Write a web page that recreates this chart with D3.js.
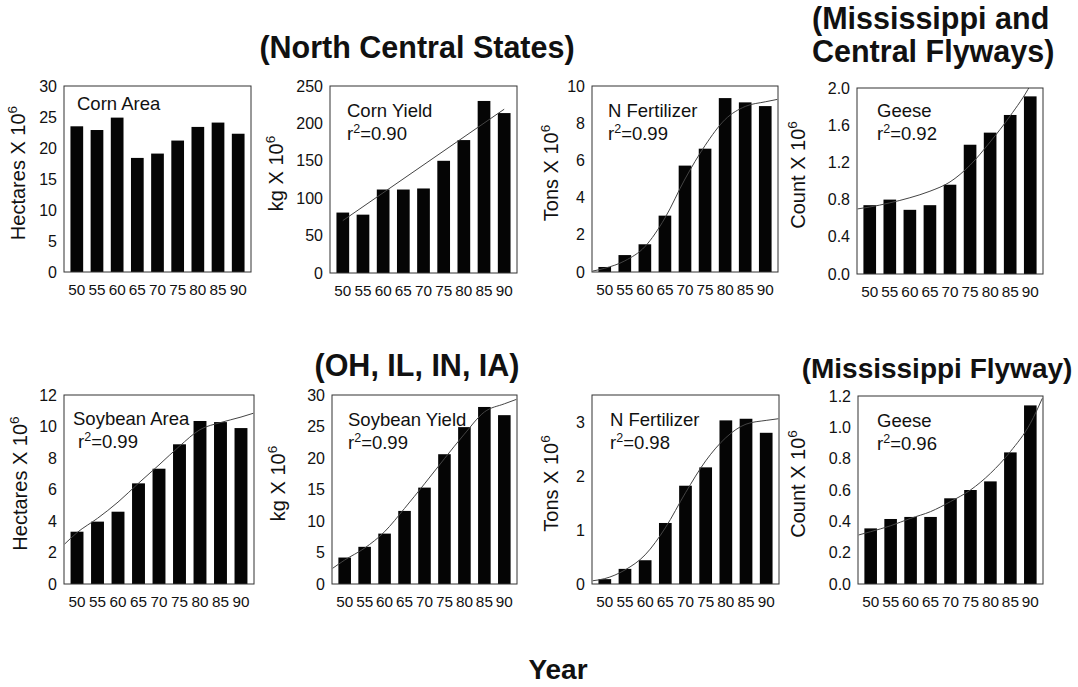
<!DOCTYPE html>
<html><head><meta charset="utf-8">
<script src="https://cdn.jsdelivr.net/npm/d3@7"></script>
<style>
body{margin:0;background:#fff;}
text{font-family:"Liberation Sans",Arial,Helvetica,sans-serif;fill:#111;}
</style></head>
<body><svg id="c" width="1078" height="687"></svg>
<script>
// ---- data ----
const years = ["50","55","60","65","70","75","80","85","90"];
const cornArea     = [23.5, 22.9, 24.9, 18.4, 19.1, 21.2, 23.4, 24.1, 22.3];
const cornYield    = [80.8, 78, 111.6, 111.6, 113, 150, 177.7, 230, 213.8];
const ncFertilizer = [0.27, 0.91, 1.49, 3.03, 5.72, 6.63, 9.35, 9.12, 8.92];
const geeseMC      = [0.74, 0.80, 0.69, 0.74, 0.96, 1.39, 1.52, 1.71, 1.91];
const soyArea      = [3.32, 3.96, 4.59, 6.39, 7.32, 8.87, 10.35, 10.28, 9.9];
const soyYield     = [4.2, 5.9, 8.0, 11.6, 15.3, 20.6, 24.9, 28.1, 26.8];
const ohFertilizer = [0.09, 0.28, 0.44, 1.13, 1.82, 2.16, 3.03, 3.06, 2.80];
const geeseM       = [0.355, 0.415, 0.428, 0.428, 0.547, 0.60, 0.655, 0.84, 1.14];

const fitYears    = [47, 50, 55, 60, 65, 70, 75, 80, 85, 90, 93];
const linFitYears = [50, 90];
const cornYieldFit    = [70, 219];
const ncFertilizerFit = [0.05, 0.2, 0.6, 1.36, 2.9, 5.0, 6.8, 8.2, 8.9, 9.15, 9.28];
const geeseMCFit      = [0.70, 0.72, 0.765, 0.82, 0.89, 0.99, 1.17, 1.42, 1.70, 2.03, 2.3];
const soyAreaFit      = [2.54, 3.26, 4.17, 5.2, 6.4, 7.56, 8.75, 9.8, 10.25, 10.6, 10.84];
const soyYieldFit     = [2.5, 3.8, 5.7, 8.3, 12.0, 15.9, 19.9, 23.8, 27.3, 28.6, 29.3];
const ohFertilizerFit = [0.06, 0.1, 0.26, 0.54, 1.04, 1.69, 2.28, 2.71, 2.96, 3.03, 3.06];
const geeseMFit       = [0.313, 0.334, 0.372, 0.419, 0.462, 0.526, 0.6, 0.706, 0.845, 1.025, 1.185];

const ticksCornArea = [0,5,10,15,20,25,30];
const ticksCornYield = [0,50,100,150,200,250];
const ticksNcFert = [0,2,4,6,8,10];
const ticksGeeseMC = [0,0.4,0.8,1.2,1.6,2.0];
const ticksSoyArea = [0,2,4,6,8,10,12];
const ticksSoyYield = [0,5,10,15,20,25,30];
const ticksOhFert = [0,1,2,3];
const ticksGeeseM = [0,0.2,0.4,0.6,0.8,1.0,1.2];

const panelNames = ["Corn Area","Corn Yield","N Fertilizer","Geese","Soybean Area","Soybean Yield","N Fertilizer","Geese"];
const r2Labels = [null,"0.90","0.99","0.92","0.99","0.99","0.98","0.96"];
const yUnits = ["Hectares","kg","Tons","Count","Hectares","kg","Tons","Count"];
const yMaxes = [30,250,10,2.0,12,30,3.5,1.2];

const titles = [
  {lines:["(North Central States)"], x:417, y:58, anchor:"middle", fs:30.5},
  {lines:["(Mississippi and","Central Flyways)"], x:812, y:29, lh:33, anchor:"start", fs:30.5},
  {lines:["(OH, IL, IN, IA)"], x:417, y:376, anchor:"middle", fs:30.5},
  {lines:["(Mississippi Flyway)"], x:937, y:378, anchor:"middle", fs:28}
];

// ---- layout (positions only) ----
const layout = [
  {x:64, y:86, w:187, h:186, lx:-39, tx:13, ty:24},
  {x:330,y:86, w:187, h:187, lx:-47, tx:17, ty:31},
  {x:592,y:86, w:186, h:186, lx:-34, tx:16, ty:31},
  {x:857,y:88, w:186, h:186, lx:-52, tx:20, ty:29},
  {x:64, y:395,w:190, h:189, lx:-37, tx:9,  ty:30, rx:14},
  {x:332,y:395,w:185, h:189, lx:-47, tx:16, ty:31},
  {x:592,y:395,w:187, h:189, lx:-34, tx:18, ty:31},
  {x:858,y:396,w:185, h:188, lx:-53, tx:19, ty:31}
];

const panels = [
  {v:cornArea, fy:null, f:null, ticks:ticksCornArea, fmt:d3.format("d")},
  {v:cornYield, fy:linFitYears, f:cornYieldFit, ticks:ticksCornYield, fmt:d3.format("d"), linear:true},
  {v:ncFertilizer, fy:fitYears, f:ncFertilizerFit, ticks:ticksNcFert, fmt:d3.format("d")},
  {v:geeseMC, fy:fitYears, f:geeseMCFit, ticks:ticksGeeseMC, fmt:d3.format(".1f")},
  {v:soyArea, fy:fitYears, f:soyAreaFit, ticks:ticksSoyArea, fmt:d3.format("d")},
  {v:soyYield, fy:fitYears, f:soyYieldFit, ticks:ticksSoyYield, fmt:d3.format("d")},
  {v:ohFertilizer, fy:fitYears, f:ohFertilizerFit, ticks:ticksOhFert, fmt:d3.format("d")},
  {v:geeseM, fy:fitYears, f:geeseMFit, ticks:ticksGeeseM, fmt:d3.format(".1f")}
];

const svg = d3.select("#c");

panels.forEach((p, i) => {
  const L = layout[i];
  const g = svg.append("g").attr("transform", `translate(${L.x},${L.y})`);
  const x = d3.scaleBand().domain(years).range([0, L.w]).paddingInner(0.37).paddingOuter(0.32);
  const y = d3.scaleLinear().domain([0, yMaxes[i]]).range([L.h, 0]);
  const yr = d3.scaleLinear().domain([50, 90])
    .range([x("50") + x.bandwidth()/2, x("90") + x.bandwidth()/2]);

  const cid = "clip" + i;
  g.append("clipPath").attr("id", cid).append("rect").attr("width", L.w).attr("height", L.h);

  // bars
  g.selectAll("rect.bar").data(p.v).join("rect").attr("class","bar")
    .attr("x", (d, j) => x(years[j])).attr("width", x.bandwidth())
    .attr("y", d => y(d)).attr("height", d => L.h - y(d))
    .attr("fill", "#050505");

  // fit curve
  if (p.f) {
    const pts = p.fy.map((yy, j) => [yr(yy), y(p.f[j])]);
    const line = d3.line().curve(p.linear ? d3.curveLinear : d3.curveMonotoneX);
    g.append("path").attr("d", line(pts)).attr("fill","none")
      .attr("stroke","#444").attr("stroke-width",1).attr("clip-path", `url(#${cid})`);
  }

  // frame
  g.append("rect").attr("width", L.w).attr("height", L.h)
    .attr("fill","none").attr("stroke","#333").attr("stroke-width",1);

  // axes
  const ya = g.append("g").call(d3.axisLeft(y).tickValues(p.ticks).tickFormat(p.fmt).tickSize(0).tickPadding(7));
  ya.select(".domain").remove();
  ya.selectAll(".tick text").attr("font-size", 16);
  const xa = g.append("g").attr("transform", `translate(0,${L.h})`)
    .call(d3.axisBottom(x).tickSize(0).tickPadding(12));
  xa.select(".domain").remove();
  xa.selectAll(".tick text").attr("font-size", 15.3);
  g.selectAll(".tick text").attr("fill", "#111")
    .attr("font-family", '"Liberation Sans",Arial,sans-serif');

  // y label
  const lab = g.append("text").attr("transform", `translate(${L.lx},${L.h/2 - 6}) rotate(-90)`)
    .attr("text-anchor","middle").attr("font-size", 20);
  lab.append("tspan").text(yUnits[i] + " X 10");
  lab.append("tspan").attr("dy", -8).attr("font-size", 13.5).text("6");

  // panel name & r2
  g.append("text").attr("x", L.tx).attr("y", L.ty).attr("font-size", 18.5).text(panelNames[i]);
  if (r2Labels[i]) {
    const t = g.append("text").attr("x", L.rx || L.tx).attr("y", L.ty + 23).attr("font-size", 18.5);
    t.append("tspan").text("r");
    t.append("tspan").attr("dy", -7).attr("font-size", 12.5).text("2");
    t.append("tspan").attr("dy", 7).text("=" + r2Labels[i]);
  }
});

// titles
titles.forEach(t => {
  t.lines.forEach((ln, k) => {
    svg.append("text").attr("x", t.x).attr("y", t.y + k * (t.lh || 0))
      .attr("text-anchor", t.anchor).attr("font-weight","bold").attr("font-size", t.fs).text(ln);
  });
});
svg.append("text").attr("x", 558).attr("y", 679).attr("text-anchor","middle")
  .attr("font-weight","bold").attr("font-size", 28).text("Year");
</script></body></html>
